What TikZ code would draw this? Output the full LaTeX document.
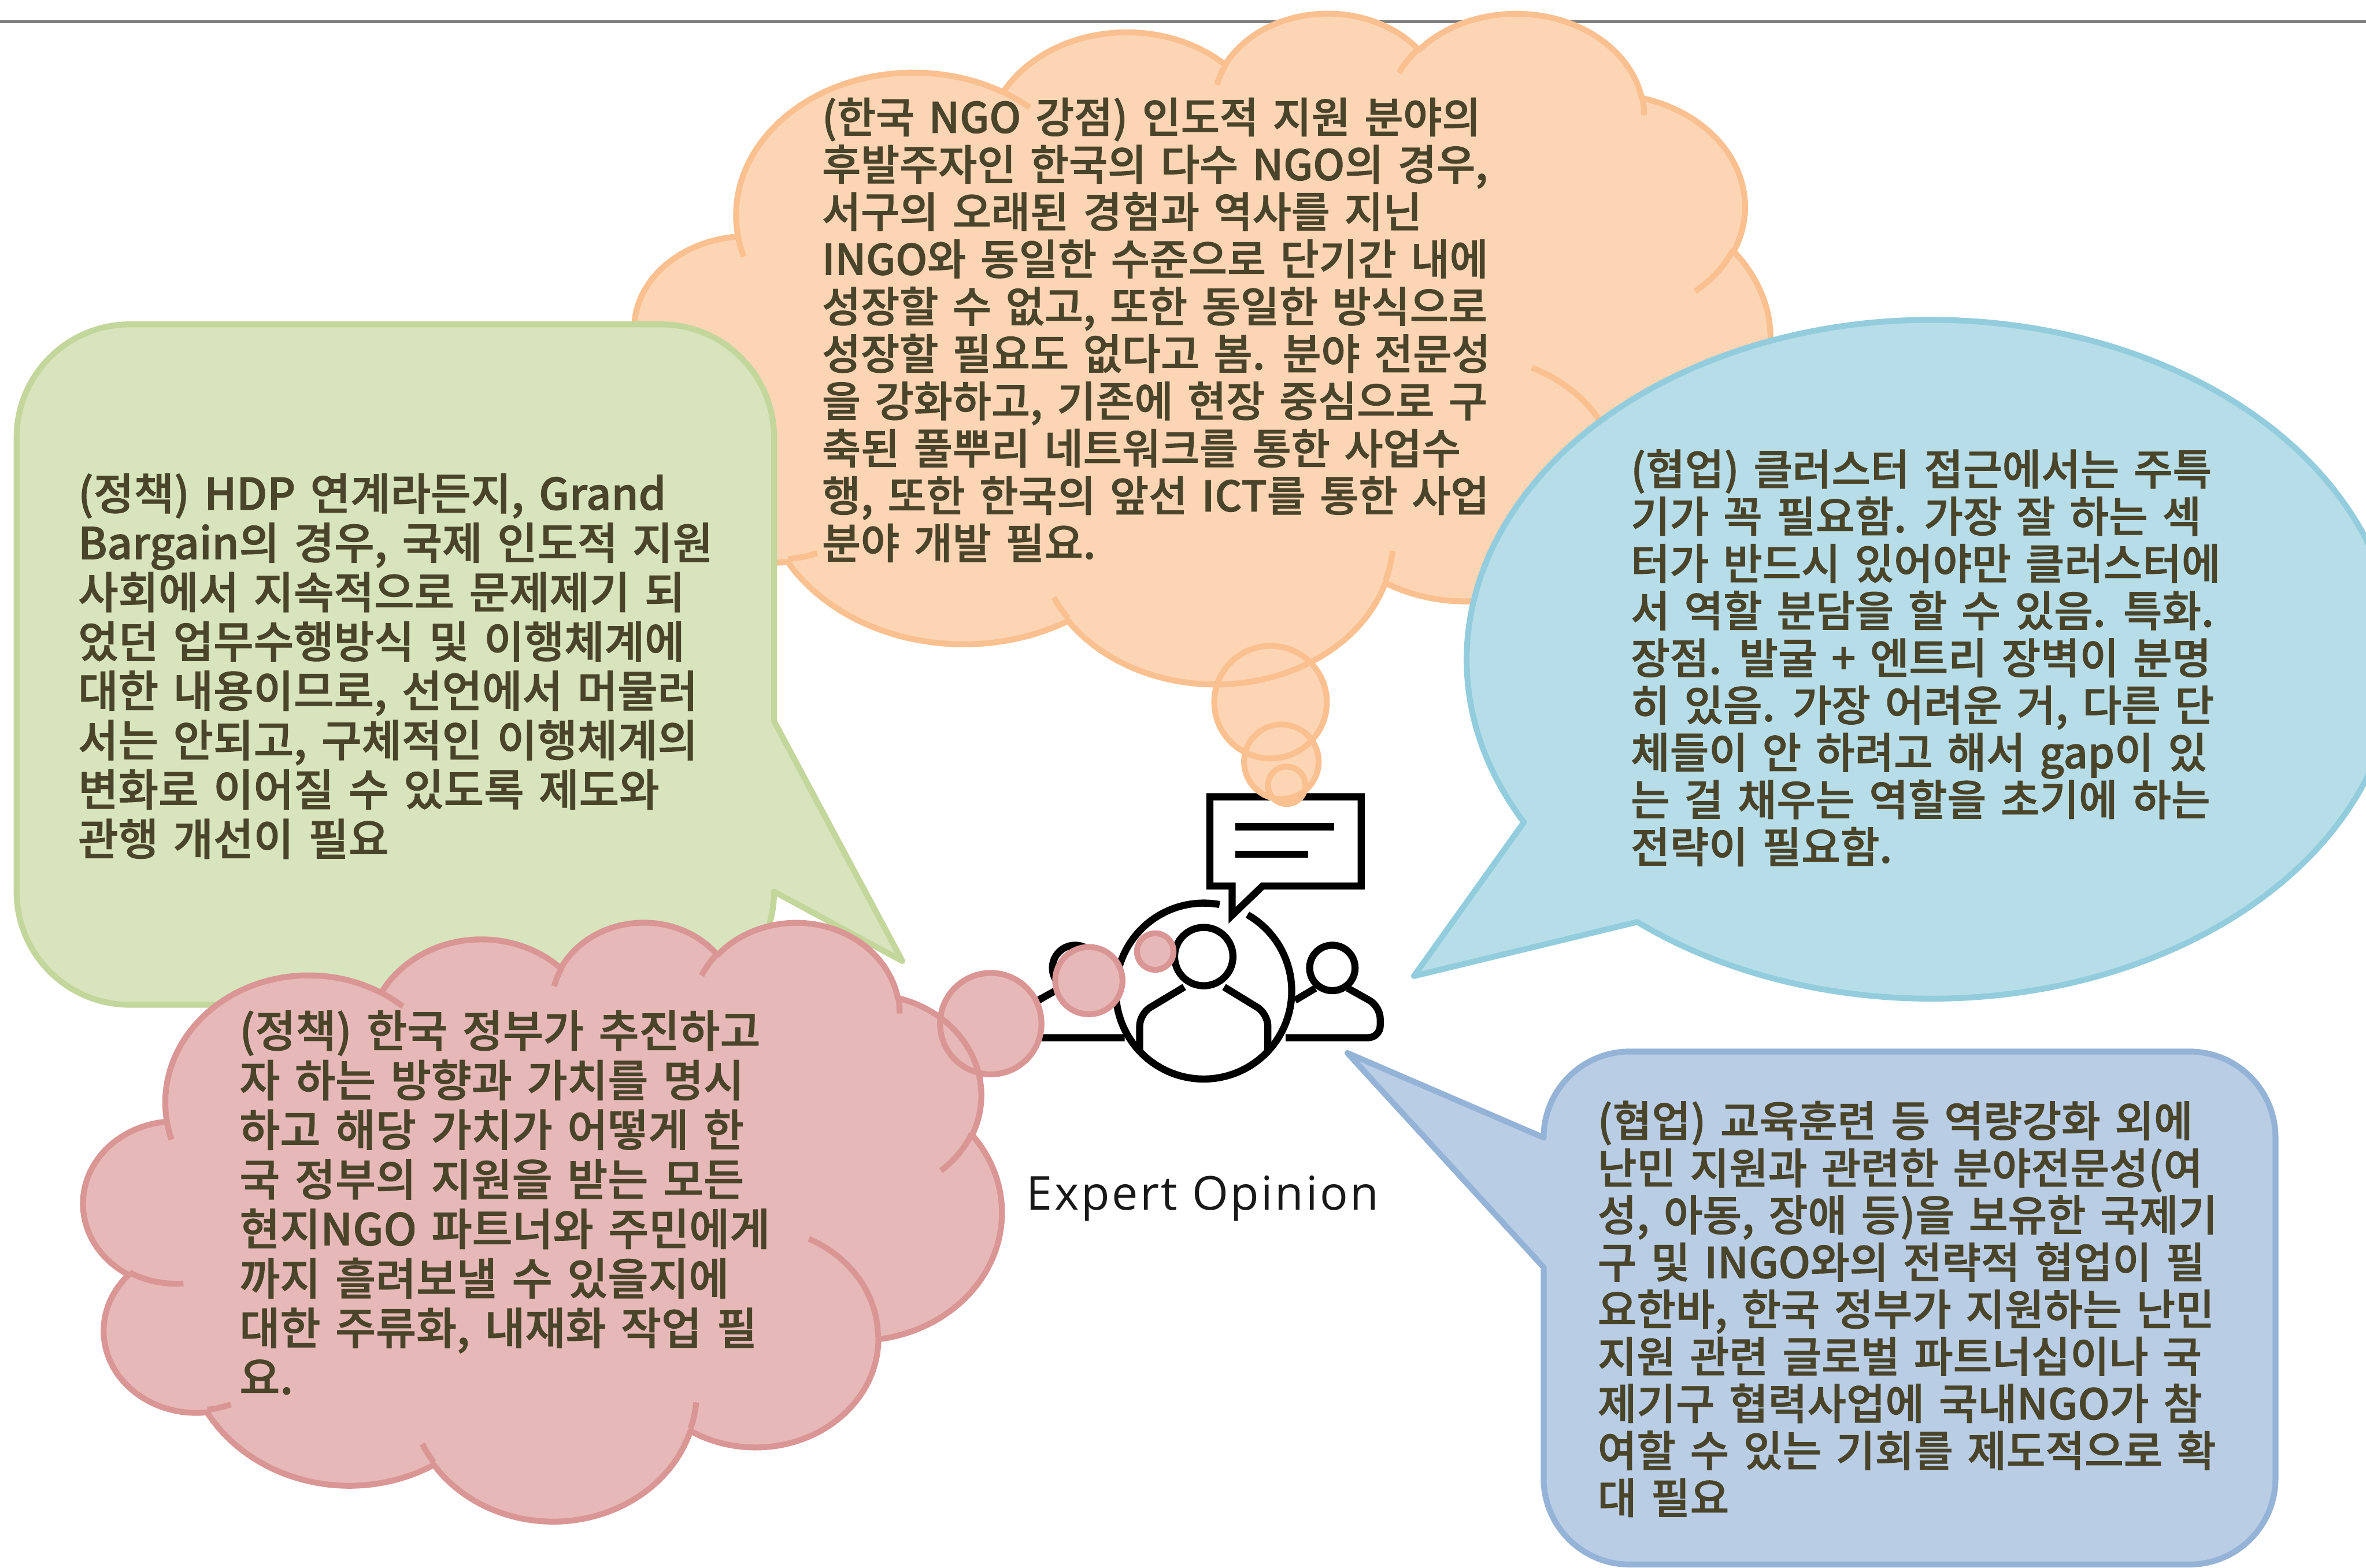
\documentclass[tikz,border=0pt]{standalone}
\usepackage{fontspec}
\newfontfamily\kr{Noto Sans CJK KR Medium}[WordSpace=1.5,FakeBold=1.4]
\newfontfamily\op{Open Sans}[LetterSpace=4.5]
\definecolor{orf}{HTML}{FCD5B5}\definecolor{ors}{HTML}{FAC090}
\definecolor{grf}{HTML}{D7E4BD}\definecolor{grs}{HTML}{C3D69B}
\definecolor{blf}{HTML}{B7DEE8}\definecolor{bls}{HTML}{93CDDD}
\definecolor{pef}{HTML}{B9CDE5}\definecolor{pes}{HTML}{95B3D7}
\definecolor{pif}{HTML}{E6B9B8}\definecolor{pis}{HTML}{D99694}
\definecolor{textc}{HTML}{4A452A}
\pgfmathdeclarefunction{pa}{3}{%
  \begingroup
  \pgfmathparse{atan2(#1*sin(#3),#2*cos(#3))-(#3)}%
  \let\tmpd\pgfmathresult
  \pgfmathparse{(#3)+atan2(sin(\tmpd),cos(\tmpd))}%
  \pgfmathsmuggle\pgfmathresult
  \endgroup}
\def\ca#1#2#3#4{arc[x radius=#1,y radius=#2,start angle={pa(#1,#2,#3)},delta angle={pa(#1,#2,#3+#4)-pa(#1,#2,#3)}]}
\def\cloudpath{(3.9,14.37) \ca{6.753}{9.19}{-190.487}{123.781} \ca{5.333}{7.267}{-144.102}{89.945} \ca{4.365}{5.945}{-145.808}{99.723} \ca{4.857}{6.595}{-130.986}{117.242} \ca{5.333}{7.273}{-78.709}{109.027} \ca{6.775}{9.22}{-46.267}{130.269} \ca{5.785}{7.867}{0.625}{114.033} \ca{6.752}{9.215}{22.452}{115.173} \ca{7.72}{10.543}{66.243}{75.711} \ca{4.36}{5.918}{-274.942}{146.736} \ca{4.345}{5.945}{-246.828}{152.519} -- cycle}
\def\cloudinner{(4.693,26.177) \ca{4.345}{5.945}{86.742}{26.43} (6.928,34.899) \ca{4.36}{5.918}{73.61}{11.447} (16.478,39.09) \ca{6.752}{9.215}{137.624}{10.759} (28.827,34.751) \ca{6.752}{9.215}{6.459}{15.99} (34.129,22.954) \ca{5.785}{7.867}{-70.292}{70.917} (41.798,15.354) \ca{5.333}{7.273}{30.318}{27.752} (38.324,5.426) \ca{4.857}{6.595}{-13.744}{14.859} (29.078,3.952) arc[x radius=4.857,y radius=6.595,start angle=-155.2,delta angle=15.5] (22.141,4.72) arc[x radius=4.365,y radius=5.945,start angle=-166.6,delta angle=13.1] (14,5.192) arc[x radius=6.753,y radius=9.19,start angle=-59.6,delta angle=10.6] (4.127,15.789) arc[x radius=6.753,y radius=9.19,start angle=163.2,delta angle=9.05]}
\def\bub#1#2#3{(#1,#2) circle[radius=#3*0.026103cm]}
\tikzset{
  stk/.style={line width=2.9pt,line join=round},
  txt/.style 2 args={font=\kr\fontsize{#1}{#2}\selectfont,align=left,inner sep=0pt,anchor=north west,text=textc},
  icon/.style={line width=3.5pt,black},
}
\begin{document}
\begin{tikzpicture}[x=0.026103cm,y=-0.026103cm]
\useasboundingbox[fill=white] (0,0) rectangle (1568,1039.3);
\draw[line width=1.2pt,color=gray] (0,14.4) coordinate (ruleL) -- (1568,14.4) coordinate (ruleR);
% icon
\begin{scope}[shift={(574.6,402.3)},x=0.007014cm,y=-0.007014cm]
\draw[icon,line join=miter] (845,468) -- (1218,468) -- (1218,688) -- (975,688) -- (900,760) -- (900,688) -- (845,688) -- cycle;
\draw[icon] (908,542) -- (1152,542);
\draw[icon] (908,610) -- (1087,610);
\draw[icon] ([shift={(60.2:1.522cm)}]830,947) arc[start angle=60.2,delta angle=-340.6,radius=1.522cm];
\draw[icon] (830,862) circle[radius=0.505cm];
\draw[icon,rounded corners=6pt] (782,937) -- (672,1003) -- (672,1100);
\draw[icon,rounded corners=6pt] (880,937) -- (988,1003) -- (988,1100);
\draw[icon] (1147,890) circle[radius=0.393cm];
\draw[icon,rounded corners=6pt] (1185,940) -- (1265,985) -- (1265,1062) -- (1032,1062);
\draw[icon] (1105,940) -- (1055,970);
\draw[icon] (513,890) circle[radius=0.393cm];
\draw[icon,rounded corners=6pt] (475,940) -- (395,985) -- (395,1062) -- (635,1062);
\draw[icon] (555,940) -- (605,970);
\end{scope}
\node[font=\op\fontsize{23}{26}\selectfont,anchor=base,text=black!90,inner sep=0pt] (expert) at (797,802) {Expert Opinion};
% orange cloud
\path[fill=orf] \bub{842}{465.4}{37.3} \bub{849.2}{504.9}{24.7} \bub{852.7}{520.5}{12.4};
\begin{scope}[shift={(421,7.6)},x=1cm,y=1cm,xscale=0.4545,yscale=-0.2686]
\path[fill=orf] \cloudpath;
\draw[stk,ors] \cloudpath;
\draw[stk,ors] \cloudinner;
\end{scope}
\draw[stk,ors] \bub{842}{465.4}{37.3} \bub{849.2}{504.9}{24.7} \bub{852.7}{520.5}{12.4};
\node[txt={20.75}{23.3pt}] (orangeText) at (544.5,64.5) {(한국 NGO 강점) 인도적 지원 분야의\\후발주자인 한국의 다수 NGO의 경우,\\서구의 오래된 경험과 역사를 지닌\\INGO와 동일한 수준으로 단기간 내에\\성장할 수 없고, 또한 동일한 방식으로\\성장할 필요도 없다고 봄. 분야 전문성\\을 강화하고, 기존에 현장 중심으로 구\\축된 풀뿌리 네트워크를 통한 사업수\\행, 또한 한국의 앞선 ICT를 통한 사업\\분야 개발 필요.};
% green callout
\path[stk,draw=grs,fill=grf] (86,215) -- (438,215) arc[start angle=90,end angle=0,radius=1.958cm] -- (513,478) -- (598,637) -- (513,591) arc[start angle=0,end angle=-90,radius=1.958cm] -- (86,666) arc[start angle=-90,end angle=-180,radius=1.958cm] -- (11,290) arc[start angle=180,end angle=90,radius=1.958cm] -- cycle;
\node[txt={21.5}{24.3pt}] (greenText) at (51.5,313.5) {(정책) HDP 연계라든지, Grand\\Bargain의 경우, 국제 인도적 지원\\사회에서 지속적으로 문제제기 되\\었던 업무수행방식 및 이행체계에\\대한 내용이므로, 선언에서 머물러\\서는 안되고, 구체적인 이행체계의\\변화로 이어질 수 있도록 제도와\\관행 개선이 필요};
% pink cloud
\path[fill=pif] \bub{656.6}{678.5}{33.6} \bub{721.6}{650}{22.3} \bub{765.6}{630.7}{12.1};
\begin{scope}[shift={(55.5,610.3)},x=1cm,y=1cm,xscale=0.3676,yscale=-0.2398]
\path[fill=pif] \cloudpath;
\draw[stk,pis] \cloudpath;
\draw[stk,pis] \cloudinner;
\end{scope}
\draw[stk,pis] \bub{656.6}{678.5}{33.6} \bub{721.6}{650}{22.3} \bub{765.6}{630.7}{12.1};
\node[txt={21.65}{24.4pt}] (pinkText) at (158.5,669.5) {(정책) 한국 정부가 추진하고\\자 하는 방향과 가치를 명시\\하고 해당 가치가 어떻게 한\\국 정부의 지원을 받는 모든\\현지NGO 파트너와 주민에게\\까지 흘려보낼 수 있을지에\\대한 주류화, 내재화 작업 필\\요.};
% blue callout
\begin{scope}[shift={(1280,437)},x=1cm,y=1cm,xscale=8.040,yscale=-5.873]
\path[stk,draw=bls,fill=blf] (151.3:1) arc[start angle=151.3,delta angle=337.99,radius=1] -- (-1.1136,0.9333) -- cycle;
\end{scope}
\node[txt={20.9}{23.25pt}] (blueText) at (1080.5,297.5) {(협업) 클러스터 접근에서는 주특\\기가 꼭 필요함. 가장 잘 하는 섹\\터가 반드시 있어야만 클러스터에\\서 역할 분담을 할 수 있음. 특화.\\장점. 발굴 + 엔트리 장벽이 분명\\히 있음. 가장 어려운 거, 다른 단\\체들이 안 하려고 해서 gap이 있\\는 걸 채우는 역할을 초기에 하는\\전략이 필요함.};
% periwinkle callout
\path[stk,draw=pes,fill=pef] (1080,697) -- (1451,697) arc[start angle=90,end angle=0,radius=1.488cm] -- (1508,980) arc[start angle=0,end angle=-90,radius=1.488cm] -- (1080,1037) arc[start angle=-90,end angle=-180,radius=1.488cm] -- (1023,840) -- (893,698) -- (1023,754) arc[start angle=180,end angle=90,radius=1.488cm] -- cycle;
\node[txt={20.9}{23.2pt}] (periText) at (1058.5,729.5) {(협업) 교육훈련 등 역량강화 외에\\난민 지원과 관련한 분야전문성(여\\성, 아동, 장애 등)을 보유한 국제기\\구 및 INGO와의 전략적 협업이 필\\요한바, 한국 정부가 지원하는 난민\\지원 관련 글로벌 파트너십이나 국\\제기구 협력사업에 국내NGO가 참\\여할 수 있는 기회를 제도적으로 확\\대 필요};
\end{tikzpicture}
\end{document}
